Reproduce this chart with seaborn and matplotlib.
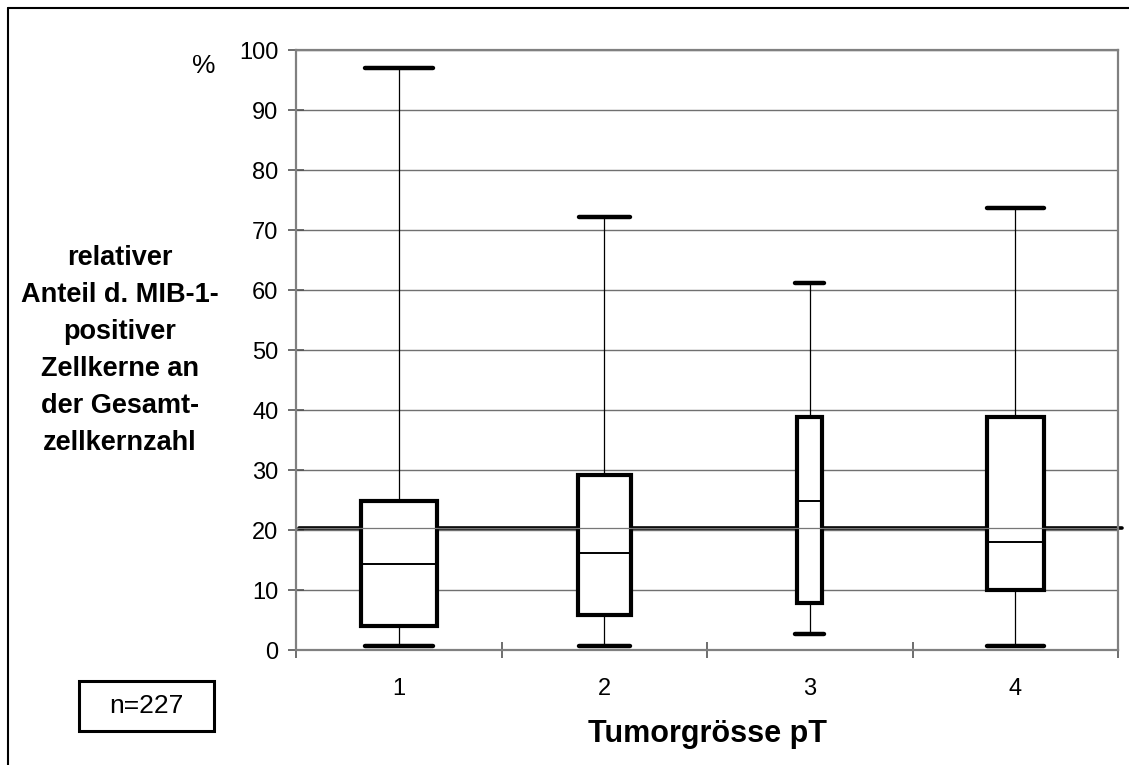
import seaborn as sns
import matplotlib.pyplot as plt
from matplotlib.lines import Line2D
from matplotlib.patches import Rectangle

# box plot summary values per tumour stage
stages = ["1", "2", "3", "4"]
whisker_low = [0.7, 0.7, 2.7, 0.7]
q1 = [4.0, 5.8, 7.8, 10.0]
median = [14.3, 16.1, 24.9, 18.0]
q3 = [24.9, 29.2, 38.8, 38.8]
whisker_high = [97.0, 72.2, 61.2, 73.7]
box_widths = [0.37, 0.26, 0.12, 0.28]
cap_widths = [0.33, 0.25, 0.14, 0.28]
overall_mean = 20.4
n_total = 227

sns.set_theme(style="white")
plt.rcParams['font.family'] = ['Liberation Sans', 'DejaVu Sans']
plt.rcParams['text.color'] = 'black'
plt.rcParams['xtick.color'] = 'black'
plt.rcParams['ytick.color'] = 'black'

fig, ax = plt.subplots(figsize=(11.29, 7.65), dpi=100)
fig.subplots_adjust(left=0.2622, right=0.9903, top=0.9346, bottom=0.1503)

stats = []
for s, lo, a, m, b, hi in zip(stages, whisker_low, q1, median, q3, whisker_high):
    stats.append(dict(label=s, whislo=lo, q1=a, med=m, q3=b, whishi=hi))

# reference line (overall mean) behind the boxes
ax.axhline(overall_mean, xmin=0.004, xmax=1.005, color='black', lw=2.6,
           clip_on=False, zorder=2)

ax.bxp(stats, positions=range(len(stages)), widths=box_widths,
       capwidths=cap_widths, showfliers=False, patch_artist=True,
       boxprops=dict(facecolor='white', edgecolor='black', linewidth=3),
       whiskerprops=dict(color='black', linewidth=0.9),
       capprops=dict(color='black', linewidth=3.2),
       medianprops=dict(color='black', linewidth=1.4),
       zorder=3)

# thin line of the mean visible through the boxes
ax.axhline(overall_mean, color='#777777', lw=0.9, zorder=4)

ax.set_xlim(-0.5, 3.5)
ax.set_ylim(0, 100)
ax.set_yticks(range(0, 101, 10))
ax.yaxis.grid(True, color='#707070', lw=1.0)
ax.xaxis.grid(False)
ax.set_axisbelow(True)

ax.set_xticks(range(len(stages)))
ax.set_xticklabels(stages)
ax.set_xticks([-0.5, 0.5, 1.5, 2.5, 3.5], minor=True)
ax.tick_params(axis='x', which='major', length=0, pad=20, labelsize=17,
               labelcolor='black')
ax.tick_params(axis='x', which='minor', direction='inout', length=11,
               width=1.2, color='#555555', bottom=True)
ax.tick_params(axis='y', direction='inout', length=11.5, width=1.2,
               color='#555555', labelsize=17, pad=7, left=True,
               labelcolor='black')

for sp in ax.spines.values():
    sp.set_color('#808080')
    sp.set_linewidth(1.6)

ax.set_xlabel('')
ax.set_ylabel('')

fig.text(708 / 1129, 1 - 742 / 765, 'Tumorgrösse pT', ha='center',
         va='baseline', fontsize=22, fontweight='bold', color='black')
fig.text(120 / 1129, 1 - 351 / 765,
         'relativer\nAnteil d. MIB-1-\npositiver\nZellkerne an\nder Gesamt-\nzellkernzahl',
         ha='center', va='center', multialignment='center', linespacing=1.55,
         fontsize=19.5, fontweight='bold', color='black')
fig.text(204 / 1129, 1 - 66 / 765, '%', ha='center', va='center',
         fontsize=19, color='black')

# n box
fig.patches.append(Rectangle((79 / 1129, 1 - 731 / 765), 135 / 1129, 50 / 765,
                             transform=fig.transFigure, fill=False,
                             edgecolor='black', lw=2.2))
fig.text(146.5 / 1129, 1 - 706 / 765, f'n={n_total}', ha='center',
         va='center', fontsize=19, color='black')

# outer frame (top and left edges visible in the reference)
fig.lines.append(Line2D([8 / 1129, 1], [1 - 8 / 765, 1 - 8 / 765],
                        transform=fig.transFigure, color='black', lw=1.5))
fig.lines.append(Line2D([8 / 1129, 8 / 1129], [0, 1 - 8 / 765],
                        transform=fig.transFigure, color='black', lw=1.5))

plt.savefig('out.png', dpi=100)
